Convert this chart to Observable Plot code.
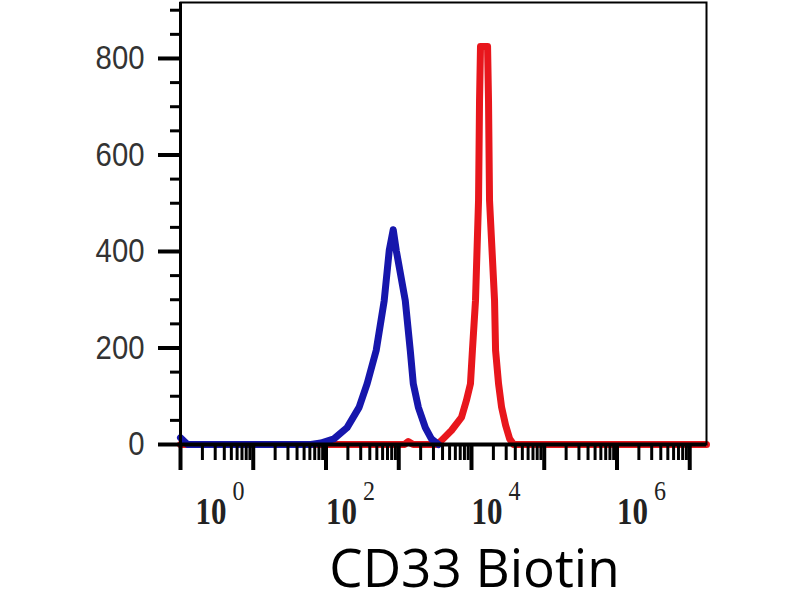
<!DOCTYPE html>
<html>
<head>
<meta charset="utf-8">
<script src="https://cdn.jsdelivr.net/npm/d3@7"></script>
<script src="https://cdn.jsdelivr.net/npm/@observablehq/plot@0.6"></script>
<style>
  html, body { margin: 0; padding: 0; background: white; }
</style>
</head>
<body>
<div id="chart"></div>
<script>
// Blue histogram (isotype / unstained)
const blueX = [1, 1.25, 62, 85, 129, 195, 285, 368, 490, 631, 740, 840, 925, 1230, 1440, 1585, 1860, 2320, 2800, 3510];
const blueY = [14, 0, 0, 3, 12, 35, 77, 126, 195, 298, 402, 445, 402, 298, 195, 126, 77, 35, 12, 0];
// Red histogram (CD33 Biotin stained)
const redX = [1, 1200, 1350, 1580, 3290, 3850, 5300, 7280, 8510, 9680, 10300, 11350, 12500, 12900, 13300, 16630, 17140, 17700, 20750, 21430, 23550, 25940, 29440, 33420, 37930, 17000000];
const redY = [0, 0, 6, 0, 0, 8, 29, 56, 91, 126, 195, 298, 506, 713, 825, 825, 713, 506, 298, 195, 126, 77, 40, 12, 0, 0];

const yMajor = [0, 200, 400, 600, 800];
const yMinor = [50, 100, 150, 250, 300, 350, 450, 500, 550, 650, 700, 750, 850, 900];
const xMajor = [1, 10, 100, 1e3, 1e4, 1e5, 1e6, 1e7];
const xMinor = [];
for (const d of [1, 10, 100, 1e3, 1e4, 1e5, 1e6]) for (const m of [2,3,4,5,6,7,8,9]) xMinor.push(d*m);
const xLabelFirst = [1];
const xLabelFirstExp = ["0"];
const xLabelRest = [100, 1e4, 1e6];
const xLabelRestExp = ["2", "4", "6"];
const title = "CD33 Biotin";

const blue = blueX.map((x, i) => ({x, y: blueY[i]}));
const red = redX.map((x, i) => ({x, y: redY[i]}));

const serif = "'Liberation Serif', 'DejaVu Serif', serif";
const sans = "'Liberation Sans', 'DejaVu Sans', sans-serif";

const chart = Plot.plot({
  width: 800,
  height: 600,
  marginLeft: 180,
  marginRight: 94,
  marginTop: 2,
  marginBottom: 156,
  x: {type: "log", domain: [1, 17000000]},
  y: {domain: [0, 916]},
  style: {background: "white", overflow: "visible"},
  marks: [
    Plot.line(red, {x: "x", y: "y", stroke: "#e8161c", strokeWidth: 7, strokeLinejoin: "round"}),
    Plot.line(blue, {x: "x", y: "y", stroke: "#1616ac", strokeWidth: 7, strokeLinejoin: "round"}),
    Plot.frame({stroke: "black", strokeWidth: 2}),
    Plot.ruleY([0], {stroke: "black", strokeWidth: 4}),
    Plot.ruleX([1], {stroke: "black", strokeWidth: 3}),
    Plot.axisY({ticks: yMajor, tickSize: 22, strokeWidth: 4, tickPadding: 14, fontSize: 33, fontFamily: sans, fill: "#333", stroke: "black", label: null, className: "ylab"}),
    Plot.axisY({ticks: yMinor, tickSize: 10, strokeWidth: 3, tickFormat: () => "", stroke: "black", label: null}),
    Plot.axisX({ticks: xMajor, tickSize: 26, strokeWidth: 4, tickFormat: () => "", stroke: "black", label: null}),
    Plot.axisX({ticks: xMinor, tickSize: 16, strokeWidth: 3, tickFormat: () => "", stroke: "black", label: null}),
    Plot.text(xLabelFirst, {x: d => d, text: () => "10", frameAnchor: "bottom", textAnchor: "start", lineAnchor: "middle", dx: 15, dy: 68, fontSize: 37, fontWeight: "bold", fontFamily: serif, fill: "#222", className: "xten"}),
    Plot.text(xLabelFirst, {x: d => d, text: (d, i) => xLabelFirstExp[i], frameAnchor: "bottom", textAnchor: "start", lineAnchor: "middle", dx: 52, dy: 47, fontSize: 28, fontFamily: serif, fill: "#222", className: "xexp"}),
    Plot.text(xLabelRest, {x: d => d, text: () => "10", frameAnchor: "bottom", textAnchor: "start", lineAnchor: "middle", dx: 0, dy: 68, fontSize: 37, fontWeight: "bold", fontFamily: serif, fill: "#222", className: "xten"}),
    Plot.text(xLabelRest, {x: d => d, text: (d, i) => xLabelRestExp[i], frameAnchor: "bottom", textAnchor: "start", lineAnchor: "middle", dx: 37, dy: 47, fontSize: 28, fontFamily: serif, fill: "#222", className: "xexp"}),
    Plot.text([title], {frameAnchor: "bottom", lineAnchor: "middle", dx: 31, dy: 126, fontSize: 53, fontFamily: "'Open Sans', sans-serif", fill: "black"})
  ]
});
// narrow the glyphs like the reference's condensed lettering
d3.select(chart).selectAll(".xten text").attr("textLength", 31).attr("lengthAdjust", "spacingAndGlyphs");
d3.select(chart).selectAll(".xexp text").attr("textLength", 12).attr("lengthAdjust", "spacingAndGlyphs");
d3.select(chart).selectAll(".ylab text").each(function() {
  const n = this.textContent.length;
  d3.select(this).attr("textLength", n * 16.3).attr("lengthAdjust", "spacingAndGlyphs");
});
document.getElementById("chart").appendChild(chart);
</script>
</body>
</html>
